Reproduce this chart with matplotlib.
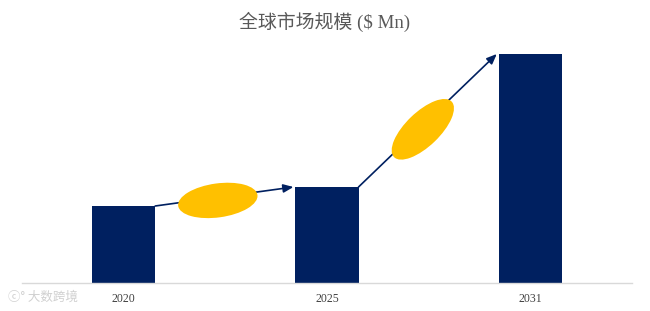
import matplotlib
matplotlib.use("Agg")
import matplotlib.pyplot as plt
from matplotlib.patches import Ellipse
from matplotlib.transforms import IdentityTransform
import numpy as np

# values (no y axis shown, relative units)
years = ['2020', '2025', '2031']
values = [77, 96, 229]

navy = '#002060'
gold = '#FFC000'
bar_w = 0.31

fig = plt.figure(figsize=(6.5, 3.11), dpi=100)
ax = fig.add_axes([22/650, 28/311, 610/650, 243/311])
x = np.arange(len(years))
ax.bar(x, values, width=bar_w, color=navy, zorder=2)
ax.set_xlim(-0.5, 2.5)
ax.set_ylim(0, 243)
ax.set_yticks([])
ax.set_xticks(x)
ax.set_xticklabels(years, fontsize=8.5, color='#404040', family='Liberation Serif')
ax.tick_params(axis='x', length=0, pad=7)
for s in ['top', 'right', 'left']:
    ax.spines[s].set_visible(False)
ax.spines['bottom'].set_color('#d9d9d9')
ax.spines['bottom'].set_linewidth(1)

fig.text(0.5, 0.93, '全球市场规模 ($ Mn)', ha='center', va='center', fontsize=13.6,
         color='#595959', family=['Liberation Serif', 'Noto Sans CJK SC'])

# growth arrows between bar tops, with an ellipse on each
fig.canvas.draw()
for i in range(len(years) - 1):
    p0 = (x[i] + bar_w/2, values[i])
    p1 = (x[i+1] - bar_w/2 - 0.01, values[i+1])
    ax.annotate('', xy=p1, xytext=p0,
                arrowprops=dict(arrowstyle='-|>,head_length=0.6,head_width=0.25',
                                color=navy, lw=1.2, shrinkA=0, shrinkB=0), zorder=3)
    d0 = ax.transData.transform(p0)
    d1 = ax.transData.transform(p1)
    ang = np.degrees(np.arctan2(d1[1] - d0[1], d1[0] - d0[0]))
    c = d0 + 0.45 * (d1 - d0)
    # sit slightly below the arrow line
    r = np.radians(ang)
    c = c + 3 * np.array([np.sin(r), -np.cos(r)])
    ell = Ellipse(c, 80, 34, angle=ang, transform=IdentityTransform(),
                  facecolor=gold, edgecolor='none', zorder=4)
    fig.patches.append(ell)
    ell.set_figure(fig)

# watermark
fig.text(8/650, 1 - 297/311, 'ⓒ° 大数跨境', fontsize=9, color='#d0d0d0', va='center',
         family=['Noto Sans CJK SC', 'DejaVu Sans'])

fig.savefig('out.png', dpi=100)
